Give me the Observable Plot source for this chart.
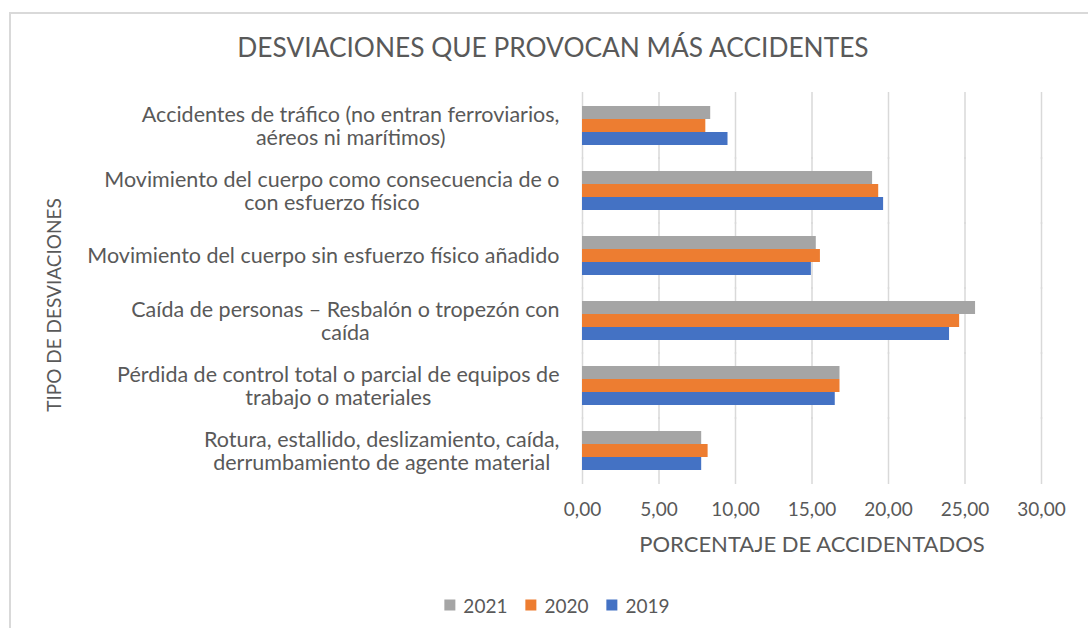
<!DOCTYPE html>
<html>
<head>
<meta charset="utf-8">
<script src="https://cdn.jsdelivr.net/npm/d3@7"></script>
<script src="https://cdn.jsdelivr.net/npm/@observablehq/plot@0.6"></script>
<style>
  body { margin: 0; background: #fff; font-family: Lato, "Open Sans", sans-serif; color: #595959; }
  #wrap { position: relative; width: 1088px; height: 628px; overflow: hidden; background: #fff; }
  #frame { position: absolute; left: 9px; top: 12px; right: -10px; bottom: -10px;
           border-top: 2px solid #d9d9d9; border-left: 2px solid #d9d9d9; }
  #chart { position: absolute; left: 0; top: 0; }
  #title { position: absolute; left: 553px; top: 47px; transform: translate(-50%, -50%);
           font-size: 26.3px; white-space: nowrap; }
  #ytitle { position: absolute; left: 53px; top: 305px; transform: translate(-50%, -50%) rotate(-90deg);
            font-size: 19px; white-space: nowrap; }
  #legend { position: absolute; left: 557px; top: 605px; transform: translate(-50%, -50%);
            display: flex; gap: 18px; font-size: 19px; white-space: nowrap; }
  #legend .item { display: flex; align-items: center; gap: 8px; }
  #legend .sw { width: 11px; height: 11px; display: inline-block; }
</style>
</head>
<body>
<div id="wrap">
  <div id="frame"></div>
  <div id="chart"></div>
  <div id="title"></div>
  <div id="ytitle"></div>
  <div id="legend"></div>
</div>
<script>
const titleText = "DESVIACIONES QUE PROVOCAN MÁS ACCIDENTES";
const xLabel = "PORCENTAJE DE ACCIDENTADOS";
const yLabel = "TIPO DE DESVIACIONES";

const categories = [
  "Accidentes de tráfico (no entran ferroviarios, aéreos ni marítimos)",
  "Movimiento del cuerpo como consecuencia de o con esfuerzo físico",
  "Movimiento del cuerpo sin esfuerzo físico añadido",
  "Caída de personas – Resbalón o tropezón con caída",
  "Pérdida de control total o parcial de equipos de trabajo o materiales",
  "Rotura, estallido, deslizamiento, caída, derrumbamiento de agente material"
];
const categoryLabels = [
  "Accidentes de tráfico (no entran ferroviarios,\naéreos ni marítimos)",
  "Movimiento del cuerpo como consecuencia de o\ncon esfuerzo físico",
  "Movimiento del cuerpo sin esfuerzo físico añadido",
  "Caída de personas – Resbalón o tropezón con\ncaída",
  "Pérdida de control total o parcial de equipos de\ntrabajo o materiales",
  "Rotura, estallido, deslizamiento, caída,\nderrumbamiento de agente material"
];
const years = ["2021", "2020", "2019"];
const legendOrder = ["2021", "2020", "2019"];
const colors = ["#a5a5a5", "#ed7d31", "#4472c4"];
const v2021 = [8.38, 18.96, 15.28, 25.69, 16.83, 7.79];
const v2020 = [8.06, 19.36, 15.55, 24.65, 16.83, 8.21];
const v2019 = [9.51, 19.68, 14.96, 23.99, 16.52, 7.79];
const xTicks = [0, 5, 10, 15, 20, 25, 30];

const series = {"2021": v2021, "2020": v2020, "2019": v2019};
const data = categories.flatMap((c, i) => years.map(y => ({cat: c, year: y, value: series[y][i]})));
const fmt = d => d.toFixed(2).replace(".", ",");

const chart = Plot.plot({
  width: 1088,
  height: 628,
  marginTop: 91,
  marginBottom: 143,
  marginLeft: 582,
  marginRight: 47,
  style: {fontFamily: "Lato, 'Open Sans', sans-serif", fontSize: "19px", color: "#595959", background: "transparent"},
  x: {domain: [0, 30]},
  fy: {domain: categories, paddingInner: 0.374, paddingOuter: 0.187},
  y: {domain: years, padding: 0, axis: null},
  color: {domain: years, range: colors},
  marks: [
    Plot.gridX(xTicks, {stroke: "#d9d9d9", strokeOpacity: 1, strokeWidth: 1.5, insetTop: -13, insetBottom: -13}),
    Plot.barX(data, {x: "value", y: "year", fy: "cat", fill: "year"}),
    Plot.axisX({ticks: xTicks, tickSize: 0, tickPadding: 31, tickFormat: fmt, label: null}),
    Plot.axisX({ticks: [], tickSize: 0, fontSize: 22, label: xLabel, labelAnchor: "center",
                labelArrow: "none", labelOffset: 80}),
    Plot.axisFy({anchor: "left", tickSize: 0, tickPadding: 23, lineHeight: 1.08, fontSize: 21.5, label: null,
                 tickFormat: c => categoryLabels[categories.indexOf(c)]})
  ]
});
document.getElementById("chart").appendChild(chart);

// center multi-line category labels within their block (as in the original)
chart.querySelectorAll('g[aria-label="fy-axis tick label"] text').forEach(t => {
  const spans = t.querySelectorAll("tspan");
  if (spans.length < 2) return;
  const w = Math.max(...Array.from(spans, s => s.getComputedTextLength()));
  t.setAttribute("text-anchor", "middle");
  spans.forEach(s => s.setAttribute("x", -w / 2));
});

document.getElementById("title").textContent = titleText;
document.getElementById("ytitle").textContent = yLabel;
const legend = document.getElementById("legend");
legendOrder.forEach(y => {
  const it = document.createElement("div");
  it.className = "item";
  const sw = document.createElement("span");
  sw.className = "sw";
  sw.style.background = colors[years.indexOf(y)];
  const tx = document.createElement("span");
  tx.textContent = y;
  it.appendChild(sw); it.appendChild(tx);
  legend.appendChild(it);
});
</script>
</body>
</html>
